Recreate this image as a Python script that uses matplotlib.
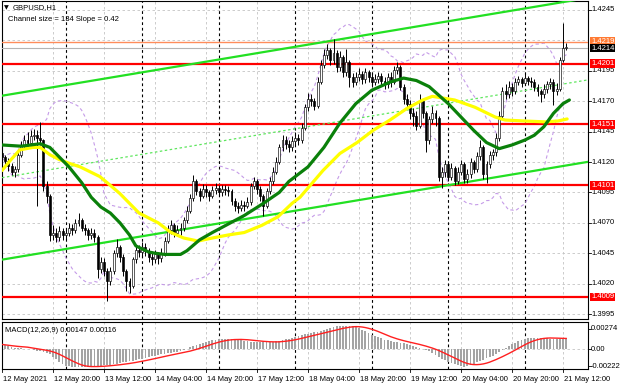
import numpy as np
import pandas as pd
import matplotlib
matplotlib.use("Agg")
import matplotlib.pyplot as plt
from matplotlib.patches import Rectangle
from matplotlib.collections import LineCollection, PatchCollection
import matplotlib.transforms as mtransforms

plt.rcParams['font.family'] = ['Liberation Sans', 'DejaVu Sans']

# ---------------- data (prices in pips above 1.4000) ----------------
BASE = 1.4000
PIP = 0.0001
first_open = 127
close_pips = [
    124, 121, 117, 112, 114, 126, 134, 138, 136, 141,
    142, 140, 138, 100, 92, 60, 62, 58, 63, 60,
    62, 66, 64, 70, 72, 66, 64, 60, 62, 58,
    32, 38, 30, 22, 30, 45, 50, 42, 30, 22,
    18, 40, 48, 46, 50, 47, 42, 40, 44, 41,
    45, 55, 64, 68, 62, 64, 66, 72, 80, 90,
    104, 96, 92, 98, 95, 92, 97, 99, 95, 98,
    97, 96, 88, 84, 82, 85, 84, 87, 100, 104,
    98, 92, 84, 96, 104, 112, 120, 132, 138, 135,
    132, 137, 140, 138, 148, 165, 172, 170, 166, 186,
    200, 208, 212, 204, 210, 198, 206, 194, 202, 190,
    186, 190, 192, 188, 194, 190, 186, 188, 191, 187,
    184, 190, 186, 196, 198, 182, 172, 168, 160, 158,
    150, 170, 160, 138, 155, 160, 156, 108, 112, 118,
    108, 115, 104, 112, 118, 106, 110, 120, 114, 125,
    132, 110, 118, 126, 128, 140, 158, 178, 176, 182,
    178, 186, 188, 185, 189, 187, 186, 182, 178, 176,
    180, 184, 186, 178, 180, 204, 214, 214]
high_pips = [
    130, 126, 123, 119, 117, 128, 137, 142, 145, 146,
    147, 146, 153, 139, 104, 94, 68, 66, 67, 66,
    66, 70, 69, 73, 78, 74, 69, 66, 66, 65,
    60, 42, 41, 33, 34, 48, 57, 52, 44, 32,
    25, 42, 51, 52, 54, 53, 49, 45, 48, 46,
    49, 58, 68, 72, 70, 68, 70, 75, 84, 94,
    109, 106, 99, 102, 101, 97, 100, 103, 101, 101,
    101, 100, 98, 90, 87, 89, 88, 91, 103, 108,
    106, 100, 94, 99, 108, 116, 124, 135, 142, 141,
    138, 141, 145, 143, 152, 168, 177, 176, 173, 190,
    204, 213, 217, 214, 221, 212, 211, 208, 213, 204,
    193, 194, 197, 195, 197, 196, 192, 192, 194, 193,
    190, 193, 194, 199, 202, 200, 184, 176, 171, 164,
    162, 176, 172, 162, 158, 166, 163, 158, 116, 122,
    120, 119, 117, 116, 122, 120, 114, 123, 122, 128,
    138, 134, 121, 129, 131, 144, 162, 182, 184, 187,
    185, 189, 191, 190, 192, 191, 190, 188, 184, 180,
    184, 187, 189, 188, 185, 206, 234, 218]
low_pips = [
    120, 117, 113, 109, 108, 112, 124, 131, 133, 134,
    138, 84, 134, 96, 86, 55, 56, 54, 55, 56,
    57, 59, 60, 62, 67, 63, 60, 56, 57, 54,
    25, 29, 26, 6, 19, 28, 42, 38, 26, 14,
    12, 16, 37, 42, 43, 43, 38, 35, 37, 36,
    38, 43, 53, 61, 58, 59, 60, 63, 70, 78,
    88, 93, 88, 90, 91, 88, 90, 94, 92, 92,
    93, 92, 85, 80, 78, 80, 80, 82, 85, 98,
    94, 88, 76, 82, 94, 102, 110, 118, 129, 131,
    128, 129, 134, 134, 136, 146, 162, 166, 163, 164,
    184, 197, 205, 200, 201, 194, 195, 190, 191, 182,
    182, 183, 187, 184, 185, 186, 182, 183, 185, 183,
    180, 181, 182, 184, 192, 179, 168, 164, 155, 150,
    146, 148, 156, 128, 135, 152, 150, 104, 99, 108,
    104, 105, 101, 102, 109, 103, 103, 107, 111, 112,
    122, 106, 103, 115, 122, 125, 137, 155, 172, 173,
    174, 176, 183, 182, 183, 183, 182, 178, 174, 169,
    173, 177, 180, 167, 175, 178, 202, 212]

# MACD main line (histogram), in 1e-5 units
macd_e5 = [
    67, 55, 45, 35, 25, 18, 14, 10, 5, 0,
    -8, -15, -25, -38, -50, -65, -95, -130, -165, -195,
    -218, -225, -230, -234, -236, -236, -234, -230, -225, -222,
    -218, -216, -212, -208, -202, -196, -190, -182, -175, -168,
    -161, -152, -142, -132, -122, -113, -104, -94, -84, -74,
    -65, -58, -50, -43, -36, -30, -18, -5, 10, 28,
    45, 60, 75, 90, 103, 115, 122, 130, 136, 140,
    141, 140, 136, 132, 128, 124, 118, 112, 106, 100,
    98, 96, 98, 100, 101, 102, 108, 118, 128, 138,
    146, 156, 168, 180, 191, 202, 212, 222, 232, 240,
    242, 258, 275, 292, 305, 308, 310, 312, 310, 308,
    308, 298, 285, 265, 242, 220, 200, 182, 165, 148,
    133, 124, 115, 106, 97, 89, 80, 70, 58, 47,
    36, 22, 8, -8, -25, -43, -68, -95, -122, -145,
    -165, -180, -195, -210, -222, -231, -225, -210, -190, -170,
    -152, -135, -118, -100, -82, -65, -38, -10, 18, 42,
    67, 90, 112, 130, 145, 155, 158, 160, 160, 159,
    152, 148, 145, 142, 140, 142, 150, 147]

# moving averages (bar index, pips)
ma_green_idx = [0, 6, 12, 15, 18, 21, 25, 28, 31, 34, 37, 40, 42, 46, 48, 51, 56, 58, 62, 66,
                71, 76, 82, 87, 90, 96, 101, 106, 111, 116, 122, 126, 130, 134, 137, 140,
                144, 148, 152, 156, 160, 164, 167, 170, 173, 176, 178]
ma_green_val = [134, 133, 135, 132, 124, 116, 103, 91, 83, 78, 70, 60, 51, 46, 45, 44, 44, 47, 56, 62,
                69, 76, 86, 95, 104, 116, 132, 152, 168, 179, 186, 189, 187, 182, 175, 168,
                157, 146, 136, 131, 134, 138, 142, 149, 160, 168, 171]
ma_yellow_idx = [0, 2.5, 5.6, 9.7, 12, 15, 18, 21, 24.5, 27.6, 30.7, 33.9, 37, 40, 43, 46, 49, 53,
                 57, 61.5, 66, 71, 76, 81.6, 86.6, 91, 93.5, 100.7, 106, 111.4, 116.4, 121.7,
                 127, 132, 135, 137.4, 142, 148.4, 154.7, 157.8, 164, 170.4, 174.4, 177.3]
ma_yellow_val = [113, 121, 130, 132, 132, 126, 122, 119, 116, 112, 108, 101, 94, 86, 78, 74, 70, 62,
                 57.5, 55, 57.5, 60, 62, 68, 75, 86, 91, 113, 127, 136, 146, 154.5,
                 164, 171, 174, 173, 171, 165, 157, 154.5, 153.7, 153, 153.7, 155.4]

# equidistant channel (bar index, pips)
chan_idx = [0, 184]
chan_upper = [174.5, 255.0]
chan_mid = [107.1, 187.6]
chan_lower = [39.7, 120.2]

levels = [1.4201, 1.4151, 1.4101, 1.4009]
orange_level = 1.4219
bid_level = 1.4214

price_ticks = [1.4245, 1.4220, 1.4195, 1.4170, 1.4145, 1.4120, 1.4095, 1.4070, 1.4045, 1.4020, 1.3995]
hidden_ticks = [1.4220]
time_tick_idx = [0, 16, 32, 48, 64, 80, 96, 112, 128, 144, 160, 176]
time_tick_labels = ["12 May 2021", "12 May 20:00", "13 May 12:00", "14 May 04:00", "14 May 20:00",
                    "17 May 12:00", "18 May 04:00", "18 May 20:00", "19 May 12:00", "20 May 04:00",
                    "20 May 20:00", "21 May 12:00"]
day_sep_idx = [20, 44, 68, 92, 116, 140, 164]
macd_ticks = [0.00274, 0.0, -0.00222]
macd_tick_labels = ["0.00274", "0.00", "-0.00222"]

# ---------------- derived series ----------------
n = len(close_pips)
idx = np.arange(n)
closes = BASE + np.array(close_pips) * PIP
opens = np.concatenate([[BASE + first_open * PIP], closes[:-1]])
highs = BASE + np.array(high_pips) * PIP
lows = BASE + np.array(low_pips) * PIP
cs = pd.Series(closes)
bb_mid = cs.rolling(20, min_periods=1).mean()
bb_std = cs.rolling(20, min_periods=1).std(ddof=0)
bb_up = bb_mid + 2 * bb_std
bb_lo = bb_mid - 2 * bb_std
macd = pd.Series(macd_e5) * 1e-5
signal = macd.rolling(9, min_periods=1).mean()

# ---------------- layout ----------------
W, H = 620, 388
fig = plt.figure(figsize=(W / 100, H / 100), dpi=100)
fig.patch.set_facecolor('white')
ax = fig.add_axes([2 / W, 1 - 319 / H, 586 / W, 318 / H])
ax2 = fig.add_axes([2 / W, 1 - 369 / H, 586 / W, 47 / H])

XMAX = 586 / 3.1875
for a in (ax, ax2):
    a.set_xlim(0, XMAX)
    a.set_xticks([])
    a.set_yticks([])
    for s in a.spines.values():
        s.set_color('black')
        s.set_linewidth(0.8)
ax.set_ylim(1.3990890, 1.4252400)
ax2.set_ylim(-0.002622, 0.003678)

grid_kw = dict(color='#c4c4c4', lw=0.6, ls=(0, (3, 3)), zorder=0)
sep_kw = dict(color='black', lw=0.8, ls=(0, (2.5, 2.5)), zorder=0.5)
for p in price_ticks:
    ax.axhline(p, **grid_kw)
for a in (ax, ax2):
    for t in time_tick_idx[1:]:
        a.axvline(t, **grid_kw)
    for d in day_sep_idx:
        a.axvline(d, **sep_kw)
ax2.axhline(0, **grid_kw)

# horizontal levels
for lv in levels:
    ax.axhline(lv, color='#ff0000', lw=1.6, zorder=3)
ax.axhline(orange_level, color='#ff8c5a', lw=1.0, zorder=3)
ax.axhline(bid_level, color='#b4b4b4', lw=0.8, zorder=3)

# channel
to_p = lambda v: BASE + np.array(v) * PIP
ax.plot(chan_idx, to_p(chan_upper), color='#22e022', lw=1.6, zorder=4)
ax.plot(chan_idx, to_p(chan_lower), color='#22e022', lw=1.6, zorder=4)
ax.plot(chan_idx, to_p(chan_mid), color='#5ee65e', lw=0.9, ls=(0, (2, 2)), zorder=4)

# bollinger bands
ax.plot(idx, bb_up, color='#c59be8', lw=0.8, ls=(0, (3, 2.5)), zorder=2)
ax.plot(idx, bb_lo, color='#c59be8', lw=0.8, ls=(0, (3, 2.5)), zorder=2)

# candles
segs = [[(i, lows[i]), (i, highs[i])] for i in range(n)]
ax.add_collection(LineCollection(segs, colors='black', linewidths=0.7, zorder=5))
bw = 0.62
bull, bear = [], []
for i in range(n):
    lo, hi = min(opens[i], closes[i]), max(opens[i], closes[i])
    h = max(hi - lo, 0.00003)
    r = Rectangle((i - bw / 2, lo), bw, h)
    (bull if closes[i] >= opens[i] else bear).append(r)
ax.add_collection(PatchCollection(bull, facecolor='white', edgecolor='black', linewidth=0.45, zorder=6))
ax.add_collection(PatchCollection(bear, facecolor='black', edgecolor='black', linewidth=0.45, zorder=6))

# moving averages
ax.plot(ma_yellow_idx, to_p(ma_yellow_val), color='#ffff00', lw=2.3, zorder=7, solid_capstyle='round')
ax.plot(ma_green_idx, to_p(ma_green_val), color='#0a800a', lw=2.3, zorder=8, solid_capstyle='round')

# MACD
ax2.bar(idx, macd, width=0.55, color='#a4a4a4', linewidth=0, zorder=2)
ax2.plot(idx, signal, color='#ff2020', lw=1.0, zorder=3)

# ---------------- texts ----------------
FS = 5.5
axis_tr = mtransforms.blended_transform_factory(ax.transAxes, ax.transData)
axis_tr2 = mtransforms.blended_transform_factory(ax2.transAxes, ax2.transData)
xoff = 3 / 586
for p in price_ticks:
    if p in hidden_ticks:
        continue
    ax.text(1 + xoff, p, f"{p:.4f}", transform=axis_tr, fontsize=FS, va='center', ha='left',
            clip_on=False, zorder=1)
    ax.plot([1, 1 + 3 / 586], [p, p], transform=axis_tr, color='black', lw=0.6, clip_on=False)
for v, lab in zip(macd_ticks, macd_tick_labels):
    ax2.text(1 + xoff, v, lab, transform=axis_tr2, fontsize=FS, va='center', ha='left', clip_on=False)
    ax2.plot([1, 1 + 3 / 586], [v, v], transform=axis_tr2, color='black', lw=0.6, clip_on=False)

def box(level, text, fc, tc='white', z=10):
    ax.text(1 + xoff, level, text, transform=axis_tr, fontsize=FS, va='center', ha='left',
            color=tc, clip_on=False, zorder=z,
            bbox=dict(boxstyle='square,pad=0.12', fc=fc, ec='none'))

for lv in levels:
    box(lv, f"{lv:.4f}", '#ff0000')
box(orange_level + 0.00002, f"{orange_level:.4f}", '#ff7a33', z=10)
box(bid_level - 0.00003, f"{bid_level:.4f}", '#000000', z=11)

tick_tr = mtransforms.blended_transform_factory(ax2.transData, ax2.transAxes)
for t, lab in zip(time_tick_idx, time_tick_labels):
    ax2.text(t + 0.3, -0.22, lab, transform=tick_tr, fontsize=FS, ha='left', va='center', clip_on=False)
    ax2.plot([t, t], [0, -0.07], transform=tick_tr, color='black', lw=0.6, clip_on=False)

fig.text(4 / W, 1 - 8 / H, "\u25bc", fontsize=4.5, va='center', ha='left',
         family=['DejaVu Sans'])
fig.text(13 / W, 1 - 8 / H, "GBPUSD,H1", fontsize=FS, va='center', ha='left')
fig.text(8 / W, 1 - 19.5 / H, "Channel size = 134 Slope = 0.42", fontsize=FS, va='center', ha='left')
fig.text(5 / W, 1 - 330 / H, "MACD(12,26,9) 0.00147 0.00116", fontsize=FS, va='center', ha='left')

fig.savefig("out.png", dpi=100, facecolor='white')
